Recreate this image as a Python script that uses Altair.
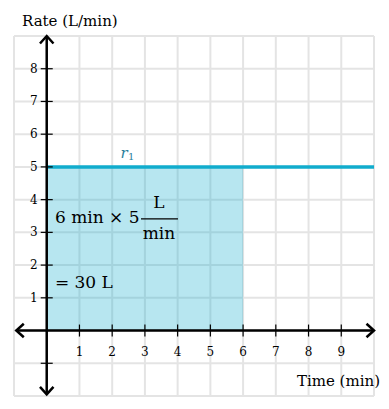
import altair as alt
import pandas as pd

# ---- data ----
grid_x = list(range(-1, 11))
grid_y = list(range(-2, 10))
x_tick_vals = [1, 2, 3, 4, 5, 6, 7, 8, 9]
x_tick_labels = ["1", "2", "3", "4", "5", "6", "7", "8", "9"]
y_tick_vals = [1, 2, 3, 4, 5, 6, 7, 8]
y_tick_labels = ["1", "2", "3", "4", "5", "6", "7", "8"]
y_extra_ticks = [-1]
rate = 5
duration = 6
x_min, x_max = -1, 10
y_min, y_max = -2, 9

FONT = "DejaVu Serif"
BLUE = "#11accd"

xs = alt.Scale(domain=[x_min, x_max], nice=False, zero=False)
ys = alt.Scale(domain=[y_min, y_max], nice=False, zero=False)


def X(f="x"):
    return alt.X(f"{f}:Q", scale=xs, axis=None)


def Y(f="y"):
    return alt.Y(f"{f}:Q", scale=ys, axis=None)


# grid
vgrid = pd.DataFrame({"x": grid_x, "y": y_min, "y2": y_max})
hgrid = pd.DataFrame({"y": grid_y, "x": x_min, "x2": x_max})
grid_v = alt.Chart(vgrid).mark_rule(color="#e4e4e4", strokeWidth=2).encode(
    x=X(), y=Y(), y2="y2:Q")
grid_h = alt.Chart(hgrid).mark_rule(color="#e4e4e4", strokeWidth=2).encode(
    y=Y(), x=X(), x2="x2:Q")

# area under rate
area_df = pd.DataFrame({"x": [0], "x2": [duration], "y": [0], "y2": [rate]})
area = alt.Chart(area_df).mark_rect(color=BLUE, opacity=0.3).encode(
    x=X(), x2="x2:Q", y=Y(), y2="y2:Q")

# rate line
rate_df = pd.DataFrame({"x": [0], "x2": [x_max], "y": [rate]})
rate_line = alt.Chart(rate_df).mark_rule(color=BLUE, strokeWidth=3.5).encode(
    x=X(), x2="x2:Q", y=Y())

# axes lines
xaxis_df = pd.DataFrame({"x": [-0.93], "x2": [x_max], "y": [0]})
yaxis_df = pd.DataFrame({"y": [-1.95], "y2": [y_max], "x": [0]})
xaxis = alt.Chart(xaxis_df).mark_rule(color="black", strokeWidth=2.5).encode(
    x=X(), x2="x2:Q", y=Y())
yaxis = alt.Chart(yaxis_df).mark_rule(color="black", strokeWidth=2.5).encode(
    y=Y(), y2="y2:Q", x=X())

# arrowheads
arrow_df = pd.DataFrame({
    "x": [x_max, -0.93, 0, 0],
    "y": [0, 0, y_max, -1.95],
    "a": [0, 180, 270, 90],
})
arrows = alt.Chart(arrow_df).mark_point(
    shape="M-1,-0.9L0,0L-1,0.9", filled=False, color="black",
    strokeWidth=2.5, size=225, opacity=1,
).encode(x=X(), y=Y(), angle=alt.Angle("a:Q", scale=None))

# ticks
xt_df = pd.DataFrame({"x": x_tick_vals, "y": 0, "lab": x_tick_labels})
yt_df = pd.DataFrame({"y": y_tick_vals, "x": 0, "lab": y_tick_labels})
ye_df = pd.DataFrame({"y": y_extra_ticks, "x": 0})
xticks = alt.Chart(xt_df).mark_point(
    shape="M0,-1L0,1", filled=False, color="black", strokeWidth=1.2,
    size=144, opacity=1).encode(x=X(), y=Y())
yticks = alt.Chart(pd.concat([yt_df[["x", "y"]], ye_df])).mark_point(
    shape="M-1,0L1,0", filled=False, color="black", strokeWidth=1.2,
    size=144, opacity=1).encode(x=X(), y=Y())
xlabels = alt.Chart(xt_df).mark_text(
    font=FONT, fontSize=12, dy=21, baseline="middle", align="center",
    color="black").encode(x=X(), y=Y(), text="lab:N")
ylabels = alt.Chart(yt_df).mark_text(
    font=FONT, fontSize=12, dx=-9, baseline="middle", align="right",
    color="black").encode(x=X(), y=Y(), text="lab:N")

# annotations
ann_df = pd.DataFrame({
    "x": [0.25, 3.43, 3.43, 0.25],
    "y": [3.44, 3.90, 2.95, 1.45],
    "t": ["6 min \u00d7 5", "L", "min", "= 30 L"],
    "al": ["left", "center", "center", "left"],
})
ann_left = alt.Chart(ann_df[ann_df.al == "left"]).mark_text(
    font=FONT, fontSize=17, align="left", baseline="middle", color="black"
).encode(x=X(), y=Y(), text="t:N")
ann_center = alt.Chart(ann_df[ann_df.al == "center"]).mark_text(
    font=FONT, fontSize=17, align="center", baseline="middle", color="black"
).encode(x=X(), y=Y(), text="t:N")
bar_df = pd.DataFrame({"x": [2.88], "x2": [4.01], "y": [3.41]})
frac_bar = alt.Chart(bar_df).mark_rule(color="black", strokeWidth=1.2).encode(
    x=X(), x2="x2:Q", y=Y())

r_df = pd.DataFrame({"x": [2.36], "y": [5.42], "t": ["r"]})
s_df = pd.DataFrame({"x": [2.58], "y": [5.30], "t": ["1"]})
r_text = alt.Chart(r_df).mark_text(
    font=FONT, fontSize=15, fontStyle="italic", color="#2a7e9b",
    baseline="middle", align="center").encode(x=X(), y=Y(), text="t:N")
s_text = alt.Chart(s_df).mark_text(
    font=FONT, fontSize=10, color="#2a7e9b",
    baseline="middle", align="center").encode(x=X(), y=Y(), text="t:N")

# axis titles
title_df = pd.DataFrame({"t": ["Rate (L/min)"]})
xtitle_df = pd.DataFrame({"t": ["Time (min)"]})
ytitle = alt.Chart(title_df).mark_text(
    font=FONT, fontSize=15, align="left", baseline="middle", color="black"
).encode(x=alt.value(8), y=alt.value(-15), text="t:N")
xtitle = alt.Chart(xtitle_df).mark_text(
    font=FONT, fontSize=15, align="right", baseline="middle", color="black"
).encode(x=alt.value(366), y=alt.value(345), text="t:N")

chart = alt.layer(
    grid_v, grid_h, area, rate_line, xaxis, yaxis, arrows,
    xticks, yticks, xlabels, ylabels, frac_bar, ann_left, ann_center,
    r_text, s_text, ytitle, xtitle,
).properties(
    width=360, height=360,
    padding={"left": 14, "top": 36, "right": 15, "bottom": 13},
    autosize=alt.AutoSizeParams(type="none"),
).configure_view(strokeWidth=0)

chart.save("out.html", embed_options={"renderer": "svg", "actions": False})
